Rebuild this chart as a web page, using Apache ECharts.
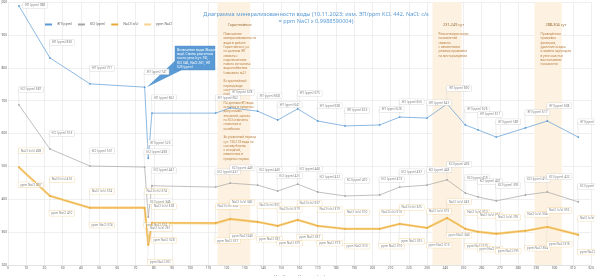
<!DOCTYPE html>
<html>
<head>
<meta charset="utf-8">
<script src="https://cdn.jsdelivr.net/npm/echarts@6/dist/echarts.min.js"></script>
<style>
  html, body { margin: 0; padding: 0; background: #fff; }
  #chart { width: 595px; height: 276px; }
</style>
</head>
<body>
<div id="chart"></div>
<script>
  // сутки наработки (общие для всех рядов)
  var days = [6, 23, 45, 75, 77, 79, 114, 122, 137, 148, 159, 170, 185, 204, 215, 230, 241, 251, 258, 268, 284, 296, 313];

  // ряды, ppm
  var epVals   = [988, 830, 751, 741, 525, 662, 662, 678, 668, 641, 675, 638, 623, 626, 650, 647, 690, 626, 611, 589, 617, 638, 589];
  var kclVals  = [687, 553, 501, 498, 346, 441, 437, 449, 443, 425, 446, 422, 410, 413, 437, 443, 459, 419, 407, 395, 413, 422, 392];
  var naclVals = [498, 410, 374, 374, 261, 328, 328, 340, 331, 319, 337, 319, 310, 310, 325, 313, 343, 310, 301, 295, 304, 316, 292];
  var ppmVals  = [497, 410, 374, 374, 261, 328, 327, 340, 331, 319, 337, 319, 310, 310, 325, 313, 343, 310, 301, 295, 304, 316, 292];

  var seriesNames = ['ЭП (ppm)', 'KCl (ppm)', 'NaCl (c/s)', 'ppm NaCl'];

  // периоды (сут)
  var bands = [[115, 133], [233, 249], [289, 304]];
  var bandTitles = ['Гарантийное', '231-249 сут', '288-304 сут'];
  var bandNotes = [
    'Повышение\nминерализованности\nводы в районе\nГарантийного уч.\nпо данным ЭП\nсвязано с\nподключением\nнового источника\nводоснабжения\n(скважина №2)\n\nВ гарантийный\nпериод вода\nсоответствует\nнормативам\n\nПо данным ЭП вода\nостаётся в пределах\nдопустимых\nзначений, однако\nпо KCl отмечено\nснижение и\nколебания\n\nЗа указанный период\nсут. 130-133 вода по\nсоставу близка\nк исходной,\nизменения в\nпределах нормы',
    'Резкое возрастание\nпоказателей\nсвязано\nс изменением\nрежима промывки\nна месторождении',
    'Проведённая\nпромывка\nфильтров,\nудаление осадка\nи замена картриджа\nв узле очистки\nвосстановили\nпоказатели'
  ];

  var colors = ['#5b9bd5', '#a5a5a5', '#e8a93a', '#f9d48c'];
  var font = '"Noto Sans", "DejaVu Sans", sans-serif';

  function pairs(vals) {
    var out = [];
    days.forEach(function (d, i) { out.push([d, vals[i]]); });
    return out;
  }

  function pointLabel(prefix, border, dy) {
    return {
      show: true,
      fontSize: 3.2,
      fontFamily: font,
      color: '#7f7f7f',
      backgroundColor: '#fff',
      borderColor: border,
      borderWidth: 0.4,
      padding: [1, 2],
      position: dy < 0 ? 'top' : 'bottom',
      formatter: function (p) { return prefix + ' ' + p.value[1]; }
    };
  }

  function makeSeries(idx, vals, prefix, border, dy, width) {
    return {
      name: seriesNames[idx],
      type: 'line',
      data: pairs(vals),
      symbol: 'circle',
      symbolSize: 1.8,
      lineStyle: { color: colors[idx], width: width },
      itemStyle: { color: colors[idx] },
      label: pointLabel(prefix, border, dy),
      labelLayout: function (params) {
        // первая точка ЭП у верхнего края — подпись справа
        if (idx === 0 && params.dataIndex === 0) {
          return { dx: 16, dy: 8, hideOverlap: false };
        }
        return { dx: 12, dy: dy, hideOverlap: false };
      },
      labelLine: { show: true, lineStyle: { color: '#d4d4d4', width: 0.4 } },
      z: idx === 3 ? 2 : 3
    };
  }

  var bandData = bands.map(function (b, i) {
    return [{
      xAxis: b[0],
      label: {
        formatter: '{t|' + bandTitles[i] + '}\n{p|' + bandNotes[i] + '}'
      }
    }, { xAxis: b[1] }];
  });

  var series = [
    makeSeries(0, epVals, 'ЭП (ppm)', '#d0d0d0', -7, 0.7),
    makeSeries(1, kclVals, 'KCl (ppm)', '#d0d0d0', -7, 0.7),
    makeSeries(3, ppmVals, 'ppm NaCl', '#f1d39a', 9, 2.4),
    makeSeries(2, naclVals, 'NaCl (c/s)', '#f1d39a', -8, 0.8)
  ];

  series[0].markArea = {
    silent: true,
    itemStyle: { color: '#fdf2e1' },
    label: {
      position: 'insideTopLeft',
      offset: [1, 11],
      fontFamily: font,
      color: '#b5793a',
      rich: {
        t: { fontSize: 3.8, color: '#9a6a36', align: 'center', width: 30, lineHeight: 14, fontFamily: font },
        p: { fontSize: 3.1, lineHeight: 4.3, color: '#b5793a', fontFamily: font }
      }
    },
    data: bandData
  };

  var option = {
    animation: false,
    color: colors,
    textStyle: { fontFamily: font },
    title: {
      text: 'Диаграмма минерализованности воды (10.11.2023; изм. ЭП/ppm KCl, 442, NaCl; c/s\n= ppm NaCl x 0,9988590004)',
      left: 311,
      top: 6,
      textAlign: 'center',
      textStyle: { fontSize: 5.6, fontWeight: 'normal', color: '#5b9bd5', lineHeight: 7, fontFamily: font }
    },
    legend: {
      left: 40,
      top: 18,
      itemWidth: 7,
      itemHeight: 2,
      itemGap: 6,
      icon: 'rect',
      textStyle: { fontSize: 3.4, color: '#595959', fontFamily: font },
      data: seriesNames
    },
    grid: { left: 8, right: 4, top: 2, bottom: 11, outerBoundsMode: 'none', containLabel: false },
    xAxis: {
      type: 'value',
      min: 0,
      max: 320,
      interval: 10,
      name: 'Наработка от Установки (сут)',
      nameLocation: 'middle',
      nameGap: 7,
      nameTextStyle: { fontSize: 3.6, color: '#595959', fontFamily: font },
      axisLine: { lineStyle: { color: '#d9d9d9', width: 0.6 } },
      axisTick: { show: false },
      axisLabel: { fontSize: 3.2, color: '#595959', margin: 2, fontFamily: font },
      splitLine: { lineStyle: { color: '#e4e4e4', width: 0.6 } }
    },
    yAxis: {
      type: 'value',
      min: 200,
      max: 1000,
      interval: 100,
      name: 'ppm (NaCl ppm)',
      nameLocation: 'middle',
      nameGap: 4,
      nameTextStyle: { fontSize: 3.4, color: '#595959', fontFamily: font },
      axisLine: { show: false },
      axisTick: { show: false },
      axisLabel: { fontSize: 3.2, color: '#595959', margin: 1, fontFamily: font },
      splitLine: { lineStyle: { color: '#e4e4e4', width: 0.6 } }
    },
    series: series
  };

  var chart = echarts.init(document.getElementById('chart'), null, { renderer: 'canvas' });
  chart.setOption(option);

  // выноска к точке смены воды
  var tip = chart.convertToPixel({ gridIndex: 0 }, [days[3], epVals[3]]);
  chart.setOption({
    graphic: [{
      type: 'group',
      children: [{
        type: 'polygon',
        shape: { points: [[178, 58], [186, 68], [tip[0] + 2, tip[1]]] },
        style: { fill: '#5b9bd5' }
      }, {
        type: 'rect',
        shape: { x: 175, y: 46, width: 40, height: 24 },
        style: { fill: '#5b9bd5', stroke: '#4a86c0', lineWidth: 0.4 }
      }, {
        type: 'text',
        x: 177,
        y: 48,
        style: {
          text: 'Включение воды (Водопро-\nвод). Смена реагентов\nпосле узла (сут. 76),\nKCl 346, NaCl 261, ЭП\n525 (ppm)',
          fill: '#fff',
          fontSize: 3.3,
          lineHeight: 4.2,
          fontFamily: font
        }
      }]
    }]
  });
</script>
</body>
</html>
